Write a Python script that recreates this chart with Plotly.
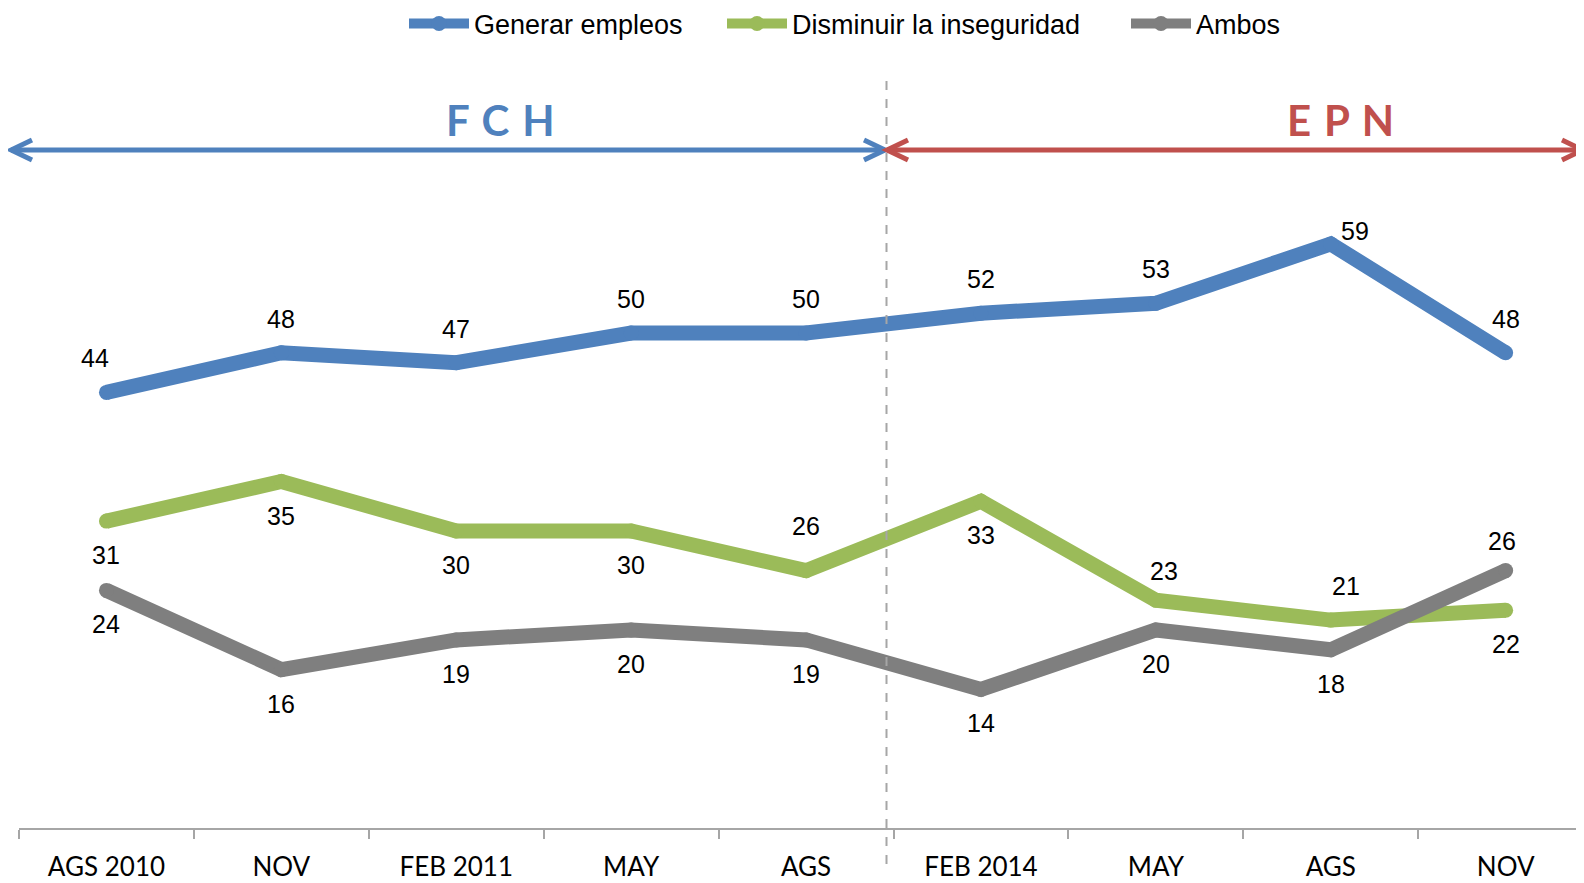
import plotly.graph_objects as go

categories = ["AGS 2010", "NOV", "FEB 2011", "MAY", "AGS", "FEB 2014", "MAY", "AGS", "NOV"]
empleos = [44, 48, 47, 50, 50, 52, 53, 59, 48]
inseguridad = [31, 35, 30, 30, 26, 33, 23, 21, 22]
ambos = [24, 16, 19, 20, 19, 14, 20, 18, 26]
series_names = ["Generar empleos", "Disminuir la inseguridad", "Ambos"]
series_colors = ["#4F81BD", "#9BBB59", "#7F7F7F"]
# label side: 1 = above the point, -1 = below
side_empleos = [1, 1, 1, 1, 1, 1, 1, 1, 1]
side_inseguridad = [-1, -1, -1, -1, 1, -1, 1, 1, -1]
side_ambos = [-1, -1, -1, -1, -1, -1, -1, -1, 1]
periods = ["F C H", "E P N"]
period_colors = ["#4F81BD", "#C0504D"]

# small manual nudges of individual labels (series index, point index) -> (dx, dy) pixels
label_nudge = {(0, 0): (-11, 0), (0, 7): (24, -21), (1, 4): (0, 11), (1, 6): (8, -5),
               (1, 7): (15, 0), (2, 8): (-4, -4)}

x = list(range(len(categories)))
split = categories.index("FEB 2014") - 0.5

# the page body has an 8px margin, so the figure is drawn 8px in from the top-left
FIG_W, FIG_H = 1576, 875
OFF = 8

fig = go.Figure()
all_series = [empleos, inseguridad, ambos]
all_sides = [side_empleos, side_inseguridad, side_ambos]
legend_ids = ["legend", "legend2", "legend3"]
legend_x_px = [396, 714, 1118]
for name, vals, col, lid in zip(series_names, all_series, series_colors, legend_ids):
    fig.add_trace(go.Scatter(
        x=x, y=vals, name=name, mode="lines+markers",
        line=dict(color=col, width=15),
        marker=dict(color=col, size=15),
        hoverinfo="skip", legend=lid,
    ))

annotations = []
for si, (vals, sides) in enumerate(zip(all_series, all_sides)):
    for xi, v, s in zip(x, vals, sides):
        dx, dy = label_nudge.get((si, xi), (0, 0))
        annotations.append(dict(
            x=xi, y=v, xref="x", yref="y", text=str(v), showarrow=False,
            xanchor="center", yanchor="middle",
            xshift=dx, yshift=34 * s + dy,
            font=dict(family="Liberation Sans, Arial", size=25, color="#000000"),
        ))

W = 1565.0
def px_to_paper_x(px):
    return (px - 19) / W
def px_to_paper_y(py):
    return (828 - py) / 792.0

for txt, col, cx in zip(periods, period_colors, [500, 1340]):
    annotations.append(dict(x=px_to_paper_x(cx), y=px_to_paper_y(120), xref="paper", yref="paper",
                            xanchor="center", yanchor="middle",
                            text="<b>" + txt.replace(" ", " \u200a") + "</b>", showarrow=False,
                            font=dict(family="Lato", size=42, color=col)))

ay = px_to_paper_y(150)
shapes = []
shapes.append(dict(type="line", xref="x", yref="paper", x0=split - 0.04, x1=split - 0.04,
                   y0=px_to_paper_y(864), y1=px_to_paper_y(79),
                   line=dict(color="#A6A6A6", width=2, dash="dash")))
bl, br = px_to_paper_x(11), px_to_paper_x(885)
rl, rr = px_to_paper_x(887), px_to_paper_x(1583)
shapes.append(dict(type="line", xref="paper", yref="paper", x0=bl, x1=br, y0=ay, y1=ay,
                   line=dict(color=period_colors[0], width=5)))
shapes.append(dict(type="line", xref="paper", yref="paper", x0=rl, x1=rr, y0=ay, y1=ay,
                   line=dict(color=period_colors[1], width=5)))
for anchor, path, col in [
    (bl, "M 21,10 L 0,0 L 21,-10", period_colors[0]),
    (br, "M -21,10 L 0,0 L -21,-10", period_colors[0]),
    (rl, "M 21,10 L 0,0 L 21,-10", period_colors[1]),
    (rr, "M -21,10 L 0,0 L -21,-10", period_colors[1]),
]:
    shapes.append(dict(type="path", xref="paper", yref="paper", xsizemode="pixel", ysizemode="pixel",
                       xanchor=anchor, yanchor=ay, path=path,
                       line=dict(color=col, width=5)))

legend_font = dict(family="Liberation Sans, Arial", size=27, color="#000000")
legend_layout = {}
for lid, lx in zip(legend_ids, legend_x_px):
    legend_layout[lid] = dict(orientation="h", xref="container", yref="container",
                              x=lx / FIG_W, y=1 - (24 - OFF) / FIG_H, xanchor="left", yanchor="middle",
                              itemwidth=60, font=legend_font, bgcolor="rgba(0,0,0,0)")

fig.update_layout(
    width=FIG_W, height=FIG_H,
    margin=dict(l=19 - OFF, r=0, t=36 - OFF, b=FIG_H - (828 - OFF), autoexpand=False),
    paper_bgcolor="white", plot_bgcolor="white",
    showlegend=True,
    annotations=annotations,
    shapes=shapes,
    xaxis=dict(range=[-0.5, 8.448], showgrid=False, zeroline=False, showline=True, automargin=False,
               linecolor="#A6A6A6", linewidth=1.5, tickvals=x, ticktext=categories, ticks="",
               ticklabelstandoff=15,
               tickfont=dict(family="Lato", size=26, color="#000000"),
               minor=dict(ticks="outside", tick0=-0.5, dtick=1, ticklen=9, tickcolor="#A6A6A6",
                          tickwidth=1.5, showgrid=False)),
    yaxis=dict(range=[0, 80], visible=False, showgrid=False, zeroline=False, automargin=False),
    **legend_layout,
)

fig.write_html("out.html")
